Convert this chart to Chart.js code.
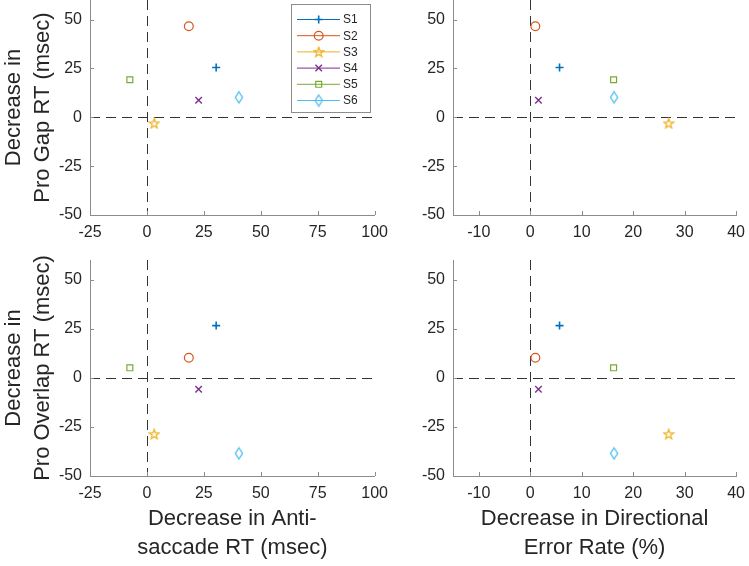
<!DOCTYPE html>
<html>
<head>
<meta charset="utf-8">
<script src="https://cdn.jsdelivr.net/npm/chart.js@4.4.0/dist/chart.umd.min.js"></script>
<style>
html, body { margin: 0; padding: 0; background: #fff; overflow: hidden; }
#page { position: relative; width: 749px; height: 566px; overflow: hidden; background: #fff; }
.panel { position: absolute; }
</style>
</head>
<body>
<div id="page">
	<div class="panel" style="left:0px;top:-20px"><canvas id="cGapAnti" width="396" height="262"></canvas></div>
	<div class="panel" style="left:383px;top:-20px"><canvas id="cGapErr" width="370" height="262"></canvas></div>
	<div class="panel" style="left:0px;top:240px"><canvas id="cOverAnti" width="396" height="326"></canvas></div>
	<div class="panel" style="left:383px;top:240px"><canvas id="cOverErr" width="370" height="326"></canvas></div>
</div>
<script>
// values
const subjects = ['S1', 'S2', 'S3', 'S4', 'S5', 'S6'];
const antiRT = [30.4, 18.4, 3.2, 22.7, -7.5, 40.4];
const errorRate = [5.7, 1.0, 26.9, 1.6, 16.2, 16.3];
const proGapRT = [25.5, 46.6, -3.1, 8.7, 19.2, 10.2];
const proOverlapRT = [26.6, 10.2, -28.7, -5.8, 5.1, -38.5];

const antiTicks = { min: -25, max: 100, step: 25 };
const errTicks = { min: -15, max: 40, step: 10 };
const rtTicks = { min: -50, max: 60, step: 25 };

// styling
const colors = ['#0072BD', '#D95319', '#EDB120', '#7E2F8E', '#77AC30', '#4DBEEE'];
const markers = ['cross', 'circle', 'star', 'crossRot', 'rect', 'diamond'];
const FONT = "'Liberation Sans', Arial, Helvetica, sans-serif";
const textColor = '#262626';
const axisColor = '#8c8c8c';

function makeMarker(kind, color) {
	if (kind !== 'star' && kind !== 'diamond') return kind;
	const c = document.createElement('canvas');
	let g;
	if (kind === 'star') {
		c.width = 12; c.height = 12;
		g = c.getContext('2d');
		g.strokeStyle = color; g.lineWidth = 1.2;
		g.beginPath();
		for (let k = 0; k < 10; k++) {
			const r = k % 2 === 0 ? 5.2 : 2.1;
			const a = -Math.PI / 2 + k * Math.PI / 5;
			const px = 6 + r * Math.cos(a), py = 6.4 + r * Math.sin(a);
			if (k === 0) g.moveTo(px, py); else g.lineTo(px, py);
		}
	} else {
		c.width = 10; c.height = 14;
		g = c.getContext('2d');
		g.strokeStyle = color; g.lineWidth = 1.3;
		g.beginPath();
		g.moveTo(5, 1.5); g.lineTo(8.6, 7); g.lineTo(5, 12.5); g.lineTo(1.4, 7);
	}
	g.closePath();
	g.stroke();
	return c;
}

const radii = { cross: 4, circle: 4.4, crossRot: 4.6, rect: 4.2 };
const widths = { cross: 1.6, circle: 1.2, crossRot: 1.4, rect: 1.2 };

function buildDatasets(xs, ys) {
	return subjects.map(function (s, i) {
		return {
			label: s,
			data: [{ x: xs[i], y: ys[i] }],
			borderColor: colors[i],
			backgroundColor: 'rgba(0,0,0,0)',
			pointStyle: makeMarker(markers[i], colors[i]),
			pointRadius: radii[markers[i]] || 6,
			pointBorderWidth: widths[markers[i]] || 1.2,
			showLine: false
		};
	});
}

const matlabAxes = {
	id: 'matlabAxes',
	beforeDatasetsDraw: function (chart) {
		const ctx = chart.ctx, a = chart.chartArea;
		const x0 = Math.round(chart.scales.x.getPixelForValue(0)) + 0.5;
		const y0 = Math.round(chart.scales.y.getPixelForValue(0)) + 0.5;
		ctx.save();
		ctx.strokeStyle = '#333333';
		ctx.lineWidth = 1;
		ctx.setLineDash([10, 6]);
		ctx.beginPath();
		ctx.moveTo(x0, a.top); ctx.lineTo(x0, a.bottom);
		ctx.moveTo(a.left, y0); ctx.lineTo(a.right, y0);
		ctx.stroke();
		ctx.restore();
	},
	afterDraw: function (chart, args, opts) {
		const ctx = chart.ctx, a = chart.chartArea;
		const sx = chart.scales.x, sy = chart.scales.y;
		// inward tick marks
		ctx.save();
		ctx.strokeStyle = axisColor;
		ctx.lineWidth = 1;
		ctx.beginPath();
		sx.ticks.forEach(function (t) {
			const px = Math.round(sx.getPixelForValue(t.value)) + 0.5;
			ctx.moveTo(px, a.bottom); ctx.lineTo(px, a.bottom - 4);
		});
		sy.ticks.forEach(function (t) {
			const py = Math.round(sy.getPixelForValue(t.value)) + 0.5;
			ctx.moveTo(a.left, py); ctx.lineTo(a.left + 4, py);
		});
		ctx.stroke();
		ctx.restore();

		if (!opts.legend) return;
		const bw = 79, bh = 108;
		const bx = Math.round(a.right - 84), by = Math.round(a.top + 4);
		ctx.save();
		ctx.fillStyle = '#fff';
		ctx.fillRect(bx, by, bw, bh);
		ctx.strokeStyle = axisColor;
		ctx.lineWidth = 1;
		ctx.strokeRect(bx + 0.5, by + 0.5, bw, bh);
		ctx.font = '12px ' + FONT;
		ctx.textBaseline = 'middle';
		chart.data.datasets.forEach(function (ds, i) {
			const ly = by + 15.5 + i * 16.2;
			ctx.strokeStyle = ds.borderColor;
			ctx.lineWidth = 1;
			ctx.beginPath();
			ctx.moveTo(bx + 6, ly); ctx.lineTo(bx + 49, ly);
			ctx.stroke();
			ctx.fillStyle = 'rgba(0,0,0,0)';
			ctx.lineWidth = ds.pointBorderWidth;
			Chart.helpers.drawPoint(ctx, {
				pointStyle: ds.pointStyle, radius: ds.pointRadius, rotation: 0, borderWidth: ds.pointBorderWidth
			}, bx + 27.7, ly);
			ctx.fillStyle = textColor;
			ctx.fillText(ds.label, bx + 52, ly + 0.5);
		});
		ctx.restore();
	}
};

function xAxis(rng, title, height) {
	return {
		type: 'linear', position: 'bottom', min: rng.min, max: rng.max,
		ticks: { stepSize: rng.step, includeBounds: false, padding: 8, color: textColor, maxRotation: 0, autoSkip: false, font: { family: FONT, size: 16 } },
		grid: { display: true, drawOnChartArea: false, drawTicks: false, color: 'rgba(0,0,0,0)' },
		border: { display: true, color: axisColor, width: 1 },
		title: title ? { display: true, text: title, color: textColor, font: { family: FONT, size: 22, lineHeight: 1.3 }, padding: { top: 0, bottom: 4 } } : { display: false },
		afterFit: function (scale) { scale.height = height; }
	};
}

function yAxis(rng, title, width) {
	return {
		type: 'linear', position: 'left', min: rng.min, max: rng.max,
		ticks: { stepSize: rng.step, includeBounds: false, padding: 8, color: textColor, autoSkip: false, font: { family: FONT, size: 16 } },
		grid: { display: true, drawOnChartArea: false, drawTicks: false, color: 'rgba(0,0,0,0)' },
		border: { display: true, color: axisColor, width: 1 },
		title: title ? { display: true, text: title, color: textColor, font: { family: FONT, size: 22, lineHeight: 1.3 }, padding: { top: 0, bottom: 0 } } : { display: false },
		afterFit: function (scale) { scale.width = width; }
	};
}

function makePanel(id, xs, ys, cfg) {
	new Chart(document.getElementById(id), {
		type: 'scatter',
		data: { datasets: buildDatasets(xs, ys) },
		options: {
			responsive: false,
			animation: false,
			events: [],
			layout: { padding: { top: 20, right: cfg.padRight, left: 0, bottom: 0 } },
			scales: {
				x: xAxis(cfg.xr, cfg.xTitle, cfg.xHeight),
				y: yAxis(rtTicks, cfg.yTitle, cfg.yWidth)
			},
			plugins: {
				legend: { display: false },
				tooltip: { enabled: false },
				matlabAxes: { legend: !!cfg.legend }
			}
		},
		plugins: [matlabAxes]
	});
}

makePanel('cGapAnti', antiRT, proGapRT, {
	xr: antiTicks, xTitle: null, xHeight: 27, yWidth: 90, padRight: 18, legend: true,
	yTitle: ['Decrease in', 'Pro Gap RT (msec)']
});
makePanel('cGapErr', errorRate, proGapRT, {
	xr: errTicks, xTitle: null, xHeight: 27, yWidth: 70, padRight: 14, yTitle: null
});
makePanel('cOverAnti', antiRT, proOverlapRT, {
	xr: antiTicks, xTitle: ['Decrease in Anti-', 'saccade RT (msec)'], xHeight: 90, yWidth: 90, padRight: 18,
	yTitle: ['Decrease in', 'Pro Overlap RT (msec)']
});
makePanel('cOverErr', errorRate, proOverlapRT, {
	xr: errTicks, xTitle: ['Decrease in Directional', 'Error Rate (%)'], xHeight: 90, yWidth: 70, padRight: 14, yTitle: null
});
</script>
</body>
</html>
